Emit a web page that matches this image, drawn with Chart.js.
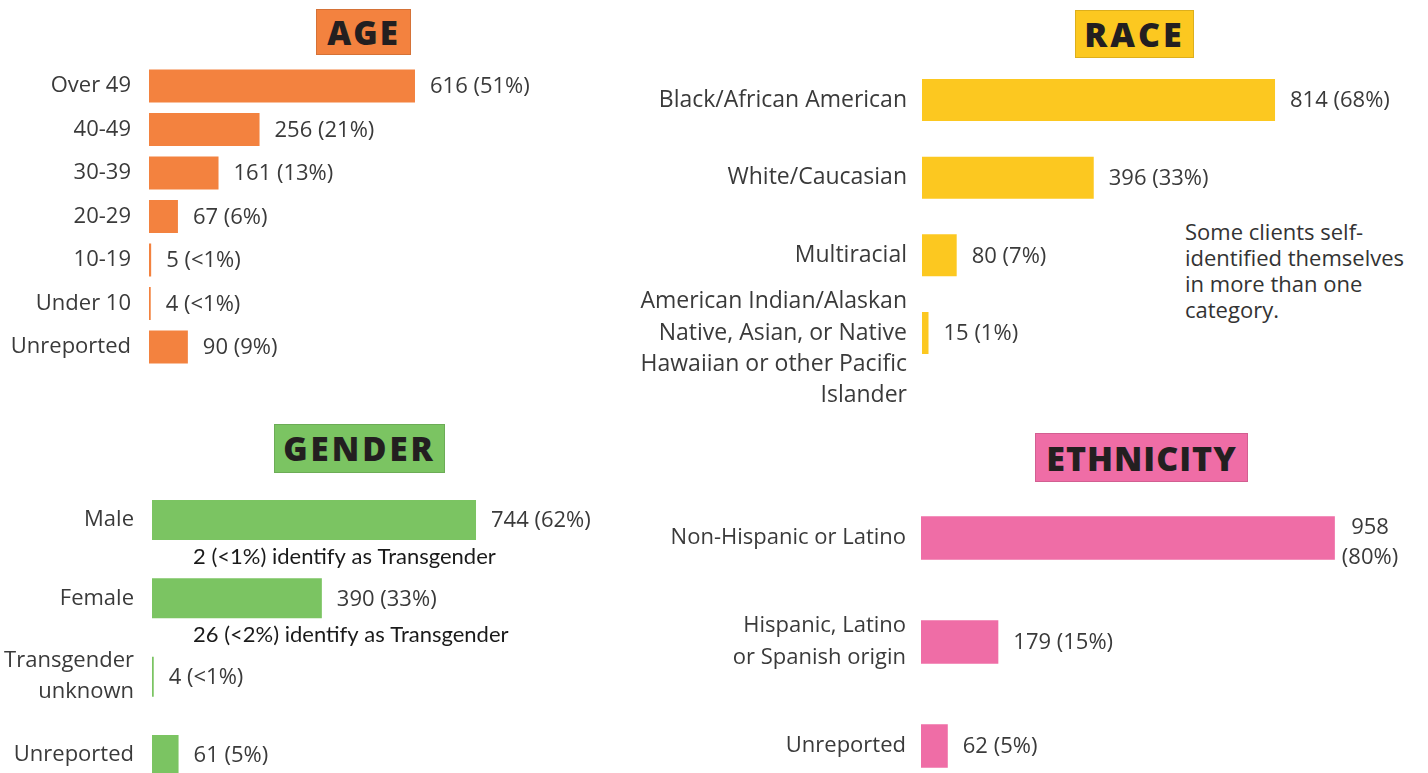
<!DOCTYPE html>
<html>
<head>
<meta charset="utf-8">
<script src="https://cdn.jsdelivr.net/npm/chart.js@4.4.1/dist/chart.umd.min.js"></script>
<style>
  html, body { margin:0; padding:0; background:#fff; width:1428px; height:773px; overflow:hidden; }
  canvas { position:absolute; }
  .title { position:absolute; display:flex; align-items:center; justify-content:center;
           font-family:"Open Sans", sans-serif; font-weight:800; color:#231f20;
           box-sizing:border-box; border:1px solid rgba(0,0,0,0.12); }
  .note { position:absolute; font-family:"Open Sans", sans-serif; font-size:22px; line-height:26px; color:#333; }
</style>
</head>
<body>
<div class="title" style="left:316px;top:9px;width:95px;height:46px;background:#F3823F;font-size:33px;letter-spacing:2px;">AGE</div>
<div class="title" style="left:1075px;top:10px;width:119px;height:48px;background:#FCC820;font-size:34px;letter-spacing:3px;">RACE</div>
<div class="title" style="left:274px;top:424px;width:171px;height:49px;background:#7BC462;font-size:33px;letter-spacing:3px;">GENDER</div>
<div class="title" style="left:1035px;top:433px;width:213px;height:49px;background:#EF6DA6;font-size:34px;letter-spacing:1px;">ETHNICITY</div>
<div class="note" style="left:1185px;top:218px;">Some clients self-<br>identified themselves<br>in more than one<br>category.</div>

<canvas id="age" width="600" height="380" style="left:0px;top:0px;"></canvas>
<canvas id="race" width="828" height="420" style="left:600px;top:0px;"></canvas>
<canvas id="gender" width="620" height="400" style="left:0px;top:410px;"></canvas>
<canvas id="eth" width="808" height="400" style="left:620px;top:420px;"></canvas>

<script>
// ---------- DATA ----------
const ageCategories = ["Over 49", "40-49", "30-39", "20-29", "10-19", "Under 10", "Unreported"];
const ageValues = [616, 256, 161, 67, 5, 4, 90];
const ageValueLabels = ["616 (51%)", "256 (21%)", "161 (13%)", "67 (6%)", "5 (<1%)", "4 (<1%)", "90 (9%)"];

// leading "" line only nudges the 4-line label down, as in the original
const raceCategories = ["Black/African American", "White/Caucasian", "Multiracial",
  ["", "American Indian/Alaskan", "Native, Asian, or Native", "Hawaiian or other Pacific", "Islander"]];
const raceValues = [814, 396, 80, 15];
const raceValueLabels = ["814 (68%)", "396 (33%)", "80 (7%)", "15 (1%)"];

const genderCategories = ["Male", "Female", ["Transgender", "unknown"], "Unreported"];
const genderValues = [744, 390, 4, 61];
const genderValueLabels = ["744 (62%)", "390 (33%)", "4 (<1%)", "61 (5%)"];
const genderNotes = ["2 (<1%) identify as Transgender", "26 (<2%) identify as Transgender", "", ""];

const ethCategories = ["Non-Hispanic or Latino", ["Hispanic, Latino", "or Spanish origin"], "Unreported"];
const ethValues = [958, 179, 62];
const ethValueLabels = [["958", "(80%)"], "179 (15%)", "62 (5%)"];

// ---------- PLUGINS ----------
const valueLabelPlugin = {
  id: 'valueLabels',
  afterDatasetsDraw(chart, args, o) {
    const ctx = chart.ctx;
    const meta = chart.getDatasetMeta(0);
    ctx.save();
    ctx.font = o.font;
    ctx.fillStyle = o.color;
    ctx.textBaseline = 'middle';
    meta.data.forEach((bar, i) => {
      const lab = o.labels[i];
      if (Array.isArray(lab)) {
        const w = Math.max(...lab.map(s => ctx.measureText(s).width));
        ctx.textAlign = 'center';
        const x = bar.x + o.wrapOffset + w / 2;
        lab.forEach((s, j) => ctx.fillText(s, x, bar.y + o.wrapShift + (j - (lab.length - 1) / 2) * o.lineHeight));
      } else {
        ctx.textAlign = 'left';
        ctx.fillText(lab, bar.x + o.offset, bar.y + 1);
      }
    });
    if (o.notes) {
      ctx.font = o.notesFont;
      ctx.fillStyle = o.notesColor;
      ctx.textAlign = 'left';
      meta.data.forEach((bar, i) => {
        if (o.notes[i]) ctx.fillText(o.notes[i], chart.chartArea.left + o.notesDx, bar.y + o.notesDy);
      });
    }
    ctx.restore();
  }
};

const TEXT = '#3a3a3a';
const LABEL_FONT = '"Open Sans", sans-serif';

function zeroPad(s) { s.paddingTop = 0; s.paddingBottom = 0; s.paddingLeft = 0; s.paddingRight = 0; }

function makeChart(id, cats, vals, valLabels, color, cfg) {
  return new Chart(document.getElementById(id), {
    type: 'bar',
    data: { labels: cats, datasets: [{ data: vals, backgroundColor: color, borderWidth: 0,
      barPercentage: cfg.barPct, categoryPercentage: 1.0 }] },
    options: {
      indexAxis: 'y', responsive: false, animation: false, devicePixelRatio: 1,
      layout: { padding: { left: 0, right: cfg.padRight, top: cfg.padTop, bottom: cfg.padBottom } },
      plugins: { legend: { display: false }, tooltip: { enabled: false },
        valueLabels: Object.assign({ labels: valLabels, font: '22px ' + LABEL_FONT, color: TEXT,
          offset: 15, wrapOffset: 7, wrapShift: 5, lineHeight: 30 }, cfg.extra || {}) },
      scales: {
        x: { display: false, min: 0, max: 1000, ticks: { display: false }, afterFit: zeroPad },
        y: { afterFit: s => { s.width = cfg.labelWidth; zeroPad(s); },
             grid: { display: false, drawTicks: false }, border: { display: false },
             ticks: { autoSkip: false, padding: cfg.tickPad, color: TEXT,
                      font: { family: LABEL_FONT, size: cfg.labelSize || 22, lineHeight: cfg.lineHeight || 1.2 } } }
      }
    },
    plugins: [valueLabelPlugin]
  });
}

// AGE: chart area x 149..580.8, y 64.25..368.75
makeChart('age', ageCategories, ageValues, ageValueLabels, '#F3823F',
  { labelWidth: 149, tickPad: 18, padRight: 600 - 149 - 431.8, padTop: 64.25, padBottom: 380 - 368.75, barPct: 0.76 });

// RACE: chart area x 922..1355.7 (page), y 61.15..371.85
makeChart('race', raceCategories, raceValues, raceValueLabels, '#FCC820',
  { labelWidth: 322, tickPad: 15, padRight: 828 - 322 - 433.7, padTop: 61.15, padBottom: 420 - 371.85, barPct: 0.54,
    lineHeight: 1.36, labelSize: 23 });

// GENDER: chart area x 152..587.5, y 480.8..794.2 (page)
makeChart('gender', genderCategories, genderValues, genderValueLabels, '#7BC462',
  { labelWidth: 152, tickPad: 18, padRight: 620 - 152 - 435.5, padTop: 70.8, padBottom: 810 - 794.2, barPct: 0.51, lineHeight: 1.41,
    extra: { notes: genderNotes, notesFont: '22px Lato, sans-serif', notesColor: '#1a1a1a', notesDx: 41, notesDy: 37 } });

// ETHNICITY: chart area x 921..1353, y 486..798 (page)
makeChart('eth', ethCategories, ethValues, ethValueLabels, '#EF6DA6',
  { labelWidth: 301, tickPad: 15, padRight: 808 - 301 - 432, padTop: 66, padBottom: 820 - 798, barPct: 0.42, lineHeight: 1.45 });
</script>
</body>
</html>
